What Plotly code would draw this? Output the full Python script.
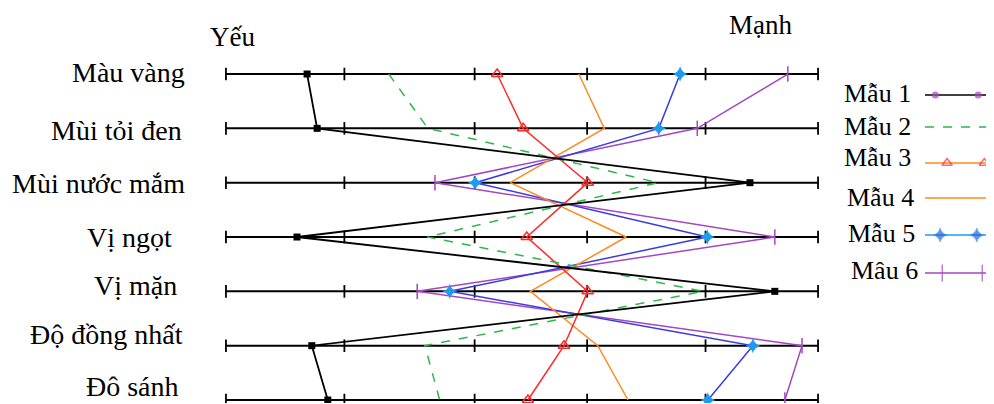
import plotly.graph_objects as go

attributes = ["Màu vàng", "Mùi tỏi đen", "Mùi nước mắm", "Vị ngọt", "Vị mặn", "Độ đồng nhất", "Đô sánh"]
tick_values = [0, 2.0, 4.2, 6.1, 8.1, 10]

mau1 = [1.37, 1.54, 8.85, 1.2, 9.27, 1.45, 1.72]
mau2 = [2.75, 3.41, 7.30, 3.40, 8.06, 3.36, 3.61]
mau3 = [4.58, 5.02, 6.11, 5.08, 6.11, 5.71, 5.10]
mau4 = [5.96, 6.39, 4.80, 6.76, 5.14, 6.28, 6.79]
mau5 = [7.67, 7.31, 4.21, 8.13, 3.78, 8.90, 8.14]
mau6 = [9.49, 7.96, 3.53, 9.27, 3.23, 9.73, 9.44]

series_names = ["Mẫu 1", "Mẫu 2", "Mẫu 3", "Mẫu 4", "Mẫu 5", "Mâu 6"]

FONT = "Liberation Serif, Times New Roman, serif"
# the page body has an 8px margin; lay out in window pixels and convert
OFF = 8
W, H = 994 - OFF, 404 - OFF


def px(x):
    return (x - OFF) / W


def py(y):
    return 1 - (y - OFF) / H


fig = go.Figure()

# axis lines per attribute
lx, ly = [], []
for a in attributes:
    lx += [tick_values[0], tick_values[-1], None]
    ly += [a, a, None]
fig.add_trace(go.Scatter(x=lx, y=ly, mode="lines", line=dict(color="black", width=2),
                         showlegend=False, hoverinfo="skip"))
# tick marks
tx, ty = [], []
for a in attributes:
    for t in tick_values:
        tx.append(t)
        ty.append(a)
fig.add_trace(go.Scatter(x=tx, y=ty, mode="markers",
                         marker=dict(symbol="line-ns", size=9, line=dict(color="black", width=1.8)),
                         showlegend=False, hoverinfo="skip"))

styles = {
    "Mâu 6": dict(line=dict(color="#a347c2", width=1.5), mode="lines+markers",
                  marker=dict(symbol="line-ns", size=11, line=dict(color="#a347c2", width=1.5))),
    "Mẫu 5": dict(line=dict(color="#3b3be0", width=1.5), mode="lines+markers",
                  marker=dict(symbol="star-diamond", size=11, color="#1e9bf0")),
    "Mẫu 4": dict(line=dict(color="#ff8a1f", width=1.5), mode="lines"),
    "Mẫu 3": dict(line=dict(color="#ff2a2a", width=1.5), mode="lines+markers",
                  marker=dict(symbol="triangle-up-open", size=10, color="#ff2a2a", line=dict(width=1.5))),
    "Mẫu 2": dict(line=dict(color="#2eb84a", width=1.5, dash="dash"), mode="lines"),
    "Mẫu 1": dict(line=dict(color="black", width=1.8), mode="lines+markers",
                  marker=dict(symbol="square", size=7, color="black")),
}
data = {"Mẫu 1": mau1, "Mẫu 2": mau2, "Mẫu 3": mau3, "Mẫu 4": mau4, "Mẫu 5": mau5, "Mâu 6": mau6}
for name in reversed(series_names):
    fig.add_trace(go.Scatter(x=data[name], y=attributes, name=name, showlegend=False,
                             xaxis="x", yaxis="y", **styles[name]))

# attribute labels (window-pixel right edges / centres)
label_right = [187, 184, 187, 174, 179, 185, 181]
label_y = [72, 131, 183, 237, 285, 334, None]
for a, xr, yc in zip(attributes, label_right, label_y):
    if yc is None:
        # last label sits on the bottom edge
        fig.add_annotation(text=a, xref="paper", yref="paper", x=px(xr), y=0,
                           xanchor="right", yanchor="bottom", showarrow=False,
                           font=dict(family=FONT, size=28, color="black"))
    else:
        fig.add_annotation(text=a, xref="paper", yref="paper", x=px(xr), y=py(yc),
                           xanchor="right", yanchor="middle", showarrow=False,
                           font=dict(family=FONT, size=28, color="black"))

# manual legend (text left, swatch right), positions in window pixels
leg_y = [95, 127, 163, 198, 235, 273]
leg_text_y = [93, 126, 157, 197, 233, 270]
leg_mk = [(0.15, 0.77), None, (0.32, 0.86), None, (0.22, 0.75), (0.25, 0.83)]
leg_styles = {
    "Mẫu 1": dict(line=dict(color="black", width=1.5),
                  marker=dict(symbol="circle", color="#a347c2", line=dict(width=0))),
    "Mẫu 2": dict(line=dict(color="#2eb84a", width=1.5, dash="dash")),
    "Mẫu 3": dict(line=dict(color="#ff8a1f", width=1.5),
                  marker=dict(symbol="triangle-up-open", color="#ff2a2a", line=dict(width=1.5))),
    "Mẫu 4": dict(line=dict(color="#ff8a1f", width=1.5)),
    "Mẫu 5": dict(line=dict(color="#1e9bf0", width=1.5),
                  marker=dict(symbol="star-diamond", color="#2b5fe0")),
    "Mâu 6": dict(line=dict(color="#a347c2", width=1.5),
                  marker=dict(symbol="line-ns", line=dict(color="#a347c2", width=1.5))),
}
leg_sizes = {"Mẫu 1": 7, "Mẫu 3": 9, "Mẫu 5": 10, "Mâu 6": 12}
leg_right = [913, 913, 913, 916, 917, 920]
for i, name in enumerate(series_names):
    st = leg_styles[name]
    if leg_mk[i] is None:
        fig.add_trace(go.Scatter(x=[0, 1], y=[leg_y[i], leg_y[i]], mode="lines", line=st["line"],
                                 xaxis="x2", yaxis="y2", showlegend=False, hoverinfo="skip"))
    else:
        s = leg_sizes[name]
        mk = dict(st["marker"])
        mk["size"] = [0, s, s, 0]
        fig.add_trace(go.Scatter(x=[0, leg_mk[i][0], leg_mk[i][1], 1], y=[leg_y[i]] * 4,
                                 mode="lines+markers", line=st["line"], marker=mk,
                                 xaxis="x2", yaxis="y2", showlegend=False, hoverinfo="skip"))
    fig.add_annotation(text=name, xref="paper", yref="paper", x=px(leg_right[i]), y=py(leg_text_y[i]),
                       xanchor="right", yanchor="middle", showarrow=False,
                       font=dict(family=FONT, size=26, color="black"))

fig.add_annotation(text="Yếu", xref="paper", yref="paper", x=px(232), y=py(37),
                   xanchor="center", yanchor="middle", showarrow=False,
                   font=dict(family=FONT, size=27, color="black"))
fig.add_annotation(text="Mạnh", xref="paper", yref="paper", x=px(760), y=py(25),
                   xanchor="center", yanchor="middle", showarrow=False,
                   font=dict(family=FONT, size=27, color="black"))

fig.update_layout(
    width=W, height=H,
    margin=dict(l=0, r=0, t=0, b=0, autoexpand=False),
    paper_bgcolor="white", plot_bgcolor="white",
    showlegend=False,
    xaxis=dict(domain=[px(223), px(821)], range=[-0.05, 10.05], visible=False, automargin=False),
    yaxis=dict(domain=[py(403), py(55)], range=[6.055, -0.35], type="category",
               categoryorder="array", categoryarray=attributes, automargin=False,
               showgrid=False, zeroline=False, showline=False, ticks="", showticklabels=False),
    xaxis2=dict(domain=[px(925), 1.0], range=[0, 1], visible=False, anchor="y2", automargin=False),
    yaxis2=dict(domain=[0, 1], range=[404, OFF], visible=False, anchor="x2", automargin=False),
)

fig.write_html("out.html")
